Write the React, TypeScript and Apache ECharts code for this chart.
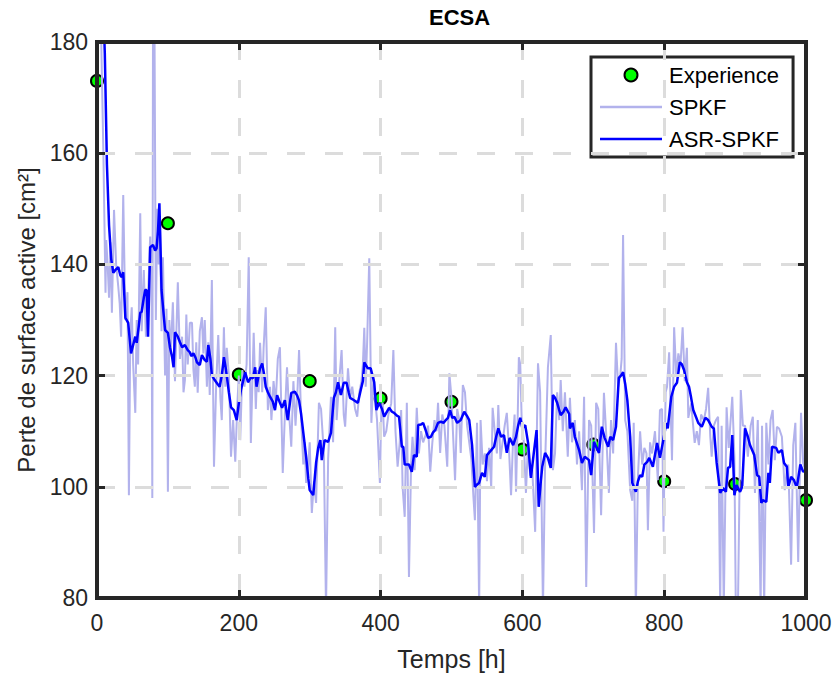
import React, { useEffect, useRef } from "react";
import * as echarts from "echarts";

const expHours = [0, 100, 200, 300, 400, 500, 600, 700, 800, 900, 1000];
const expValues = [173, 147.4, 120.2, 119, 115.9, 115.3, 106.7, 107.6, 101, 100.5, 97.6];

const spkfHours = [
  0, 3, 6, 9, 12, 13, 15, 17, 19, 21, 24, 27, 30, 32, 34, 37, 40, 43, 45, 47, 49, 51, 54, 56, 58, 61, 63, 66, 69, 72,
  75, 77, 78, 79, 81, 83, 85, 87, 89, 91, 93, 96, 98, 100, 102, 104, 107, 110, 112, 114, 117, 120, 122, 124, 126, 128,
  131, 134, 136, 138, 140, 142, 145, 148, 150, 152, 155, 157, 159, 162, 165, 168, 171, 174, 176, 179, 181, 183, 186,
  189, 192, 195, 198, 200, 202, 205, 208, 211, 214, 217, 219, 221, 224, 226, 228, 230, 233, 235, 238, 241, 244, 246,
  249, 252, 255, 258, 262, 265, 268, 271, 274, 277, 280, 283, 285, 288, 291, 293, 295, 298, 300, 303, 306, 309, 313,
  316, 320, 323, 326, 330, 333, 336, 338, 341, 345, 348, 350, 354, 357, 360, 364, 367, 370, 373, 375, 377, 379, 381,
  384, 387, 390, 392, 395, 399, 401, 403, 405, 408, 411, 415, 418, 421, 424, 427, 429, 431, 434, 437, 440, 443, 445,
  448, 451, 454, 457, 460, 464, 467, 470, 473, 476, 479, 481, 484, 487, 490, 494, 497, 500, 502, 505, 508, 511, 513,
  516, 519, 522, 525, 528, 531, 533, 536, 539, 541, 544, 547, 550, 553, 556, 558, 561, 564, 566, 569, 572, 575, 578,
  581, 584, 587, 589, 591, 593, 595, 597, 599, 602, 605, 608, 611, 614, 618, 622, 625, 629, 632, 636, 640, 643, 646,
  649, 652, 654, 657, 660, 664, 667, 670, 674, 677, 680, 684, 687, 690, 694, 697, 701, 704, 707, 711, 715, 718, 722,
  725, 728, 732, 735, 738, 740, 742, 745, 748, 752, 755, 757, 760, 763, 766, 769, 772, 775, 777, 780, 783, 787, 791,
  794, 797, 799, 802, 804, 807, 811, 814, 817, 820, 823, 826, 829, 832, 834, 838, 843, 846, 849, 852, 856, 859, 862,
  865, 867, 870, 873, 876, 879, 881, 884, 888, 891, 896, 899, 901, 904, 908, 911, 914, 918, 922, 925, 928, 932, 936,
  938, 941, 944, 947, 950, 953, 956, 959, 962, 966, 970, 973, 975, 979, 982, 985, 989, 993, 996, 1000,
];
const spkfValues = [
  240, 205, 180, 160, 134.9, 144.4, 140, 134, 144, 131.3, 149.8, 140, 136, 133, 127, 152.5, 130, 135, 98.5, 128, 132.3,
  122, 113.3, 130, 122, 149.2, 128, 139, 127, 134, 145, 138, 98, 185, 185, 130, 150, 140, 146, 128, 141.3, 120, 132,
  99.1, 130, 124, 133.2, 119, 128, 136.8, 123, 127, 117, 119.2, 131, 122, 129.5, 129.5, 121, 118, 126, 116.9, 128,
  130.5, 124, 130, 118, 126, 116.5, 137.2, 103.6, 118, 127.3, 116, 112, 128.7, 118, 125, 120, 105.4, 112, 104.5, 115,
  120, 108.4, 121, 118, 122, 141.3, 107.9, 118, 127.7, 114, 121, 117, 125.9, 117, 125, 132.3, 113.8, 118, 112, 119,
  115, 123, 125.1, 102.5, 113, 121.5, 113, 107.2, 119, 111, 118, 124.6, 112, 104, 108, 100.7, 104, 108, 95.3, 101,
  97.1, 115.1, 114, 106, 78, 105, 116.2, 108, 128.7, 112, 118, 124.6, 113, 110.8, 121.3, 116, 118, 114, 112.6, 117,
  119, 122, 128.6, 118, 126, 141.1, 111.5, 120, 116, 112, 100.7, 114, 115.1, 109, 110, 113, 115, 124.6, 110, 103.6,
  108, 113.8, 100, 94.6, 115.1, 83.8, 104, 109, 103, 114.2, 106, 110, 108, 109.5, 111, 102.7, 108, 112, 110, 115.1,
  106.1, 113, 111, 103.6, 120.4, 116, 110, 101.2, 114, 112, 106.1, 118.3, 117, 111, 108, 105, 98, 94, 111.5, 78, 112,
  104, 106, 101, 107, 99.8, 114.2, 110, 106, 114.7, 105, 108, 111, 113.3, 107, 98.5, 109, 113, 99.1, 110, 123.3, 122,
  112, 108, 98.9, 108, 102, 103, 91.9, 122.2, 117, 78, 104, 121.5, 127.3, 103, 106, 117, 112, 119.2, 110, 117, 105.4,
  116, 108, 112, 104, 110, 99.4, 116.2, 82, 112, 111, 91.7, 115.1, 114, 94.9, 116.9, 110, 98.9, 112, 106, 125.9, 118,
  120, 123, 145.3, 112, 110, 99.4, 97.5, 111.5, 78, 102, 110, 104, 107, 106, 92.2, 108, 106, 110, 101.2, 113.8, 114,
  91.9, 117, 118, 124.2, 104.8, 128.7, 120, 124, 122, 128.7, 119, 125, 112.4, 115, 107.9, 110, 107.5, 113, 112, 114,
  117.8, 109, 105.4, 111, 112, 112.6, 78, 111, 78, 114.3, 107, 116.2, 105.4, 78, 78, 117.4, 111, 111, 105.4, 111,
  112.6, 98.9, 112, 78, 111, 78, 111.5, 104, 112, 113.8, 104.8, 110.8, 110.5, 109, 99.4, 103, 104, 86, 107.5, 111.5,
  86.5, 113.3, 104.3, 102.5,
];

const asrHours = [
  0, 4, 8, 11, 14, 17, 20, 23, 26, 30, 33, 35, 37, 40, 44, 48, 51, 54, 56, 59, 61, 63, 66, 68, 70, 72, 75, 79, 82, 84,
  86, 88, 90, 91, 94, 96, 100, 103, 106, 108, 110, 114, 117, 120, 124, 128, 131, 133, 136, 139, 141, 145, 148, 152,
  155, 157, 160, 162, 166, 170, 173, 176, 179, 182, 186, 189, 193, 197, 200, 203, 206, 209, 213, 217, 220, 223, 225,
  228, 230, 233, 236, 238, 241, 244, 248, 251, 254, 258, 261, 265, 269, 271, 274, 279, 282, 285, 288, 291, 295, 298,
  300, 305, 309, 312, 315, 317, 321, 326, 330, 334, 337, 340, 344, 348, 352, 355, 357, 362, 368, 372, 375, 377, 382,
  386, 391, 394, 398, 402, 405, 408, 412, 416, 419, 423, 426, 430, 432, 434, 440, 444, 447, 451, 453, 457, 460, 464,
  467, 471, 474, 477, 481, 485, 489, 492, 495, 498, 501, 504, 508, 513, 518, 522, 525, 529, 533, 536, 539, 543, 547,
  550, 556, 560, 563, 566, 570, 574, 578, 582, 587, 591, 594, 597, 600, 604, 608, 612, 616, 620, 623, 626, 628, 632,
  636, 640, 643, 646, 649, 654, 658, 661, 666, 667, 671, 674, 680, 684, 688, 694, 697, 701, 704, 708, 712, 716, 721,
  724, 728, 732, 736, 739, 742, 745, 748, 752, 755, 760, 763, 766, 769, 772, 776, 779, 784, 790, 794, 798, 803, 805,
  810, 814, 818, 822, 825, 828, 832, 835, 838, 841, 845, 848, 853, 858, 862, 867, 870, 874, 879, 883, 887, 890, 893,
  896, 899, 902, 907, 910, 914, 918, 921, 924, 927, 931, 934, 937, 939, 944, 947, 949, 952, 958, 961, 966, 969, 973,
  975, 979, 983, 987, 992, 996, 1000,
];
const asrValues = [
  230, 210, 190, 178, 158, 147, 141, 138.5, 139, 139.5, 138, 137.7, 138.6, 130.4, 129.5, 124, 125.5, 127, 125.9, 129,
  131.3, 131.5, 134, 135.4, 135.4, 127, 143.1, 143.5, 142.5, 142.9, 146, 151, 141, 135.4, 131, 128.2, 127.7, 125,
  123.3, 121.5, 127.8, 127, 126, 125.1, 125.5, 124.6, 124.2, 123.5, 124, 123.2, 122.4, 121.9, 123.7, 122.8, 122.5,
  125.5, 123, 120.1, 119.2, 118.5, 118, 120, 123.3, 121, 117, 114.3, 113.8, 112, 115, 117.4, 119, 120.6, 118.8, 119.7,
  119.5, 121.5, 118, 120, 121.3, 122.2, 120, 118, 117, 116.2, 115.3, 113.8, 116.5, 115.1, 114.2, 115.6, 112, 114,
  116.9, 117.1, 116.5, 115.5, 113, 109.7, 105.4, 101.5, 99.4, 98.5, 104.3, 107, 108.4, 104.8, 108.4, 108.1, 109.7, 116,
  117, 118.8, 116.5, 118.7, 118.7, 117, 116, 115.6, 115.1, 117.4, 119, 122.4, 121.3, 121.3, 118.8, 113.8, 115.1, 114,
  112.6, 113.3, 114.2, 113.5, 113.3, 112.8, 112.6, 107.2, 107.2, 104, 104, 102.7, 105.7, 105.4, 111.1, 111.2, 111.5,
  110, 108.8, 109, 109.8, 110.2, 111.5, 111.7, 111.5, 112, 112.4, 113.8, 112.4, 112.6, 111.5, 112, 113.5, 112.7, 112,
  107.5, 100, 100.4, 100.7, 102.5, 101.8, 105.7, 106.6, 107.2, 109, 110.5, 109, 109.3, 106.1, 108.8, 107.5, 109, 111,
  112.4, 110.5, 111.1, 107.9, 101.6, 106, 110.2, 96.4, 101, 103.6, 106.1, 105.2, 103.4, 116.5, 116, 115.1, 112.9,
  113.5, 114.3, 113.1, 110.5, 111.5, 109, 106.6, 104.3, 105.4, 104.8, 102.1, 108.1, 107.2, 106.1, 110.8, 108.8, 107.2,
  109, 108.4, 110.8, 119.6, 120, 120.6, 118.5, 115.6, 109, 100.7, 99.1, 101, 102.1, 101.8, 104, 104.5, 105.2, 103.6,
  107.9, 105.2, 107.9, 111.5, 110.5, 116.2, 118, 118.7, 122.4, 122, 121, 118.8, 118, 116, 113.8, 112.5, 111.5, 110.8,
  112.4, 112, 110.8, 110.5, 104.3, 98.9, 99.8, 99.1, 103.4, 103.6, 109.3, 98.5, 100.3, 99.1, 100, 110.5, 109, 107.5,
  106.6, 105.7, 102.1, 101.8, 97.1, 97.6, 97.3, 102.5, 100.7, 107.2, 107, 106.1, 106.6, 104.3, 103.6, 100, 101.8,
  101.2, 99.8, 104, 102.7, 103,
];

const xTicks = { min: 0, max: 1000, interval: 200 };
const yTicks = { min: 80, max: 180, interval: 20 };

const FONT = "'Liberation Sans', Arial, Helvetica, sans-serif";
const AXIS_COLOR = "#262626";
const LINE_ICON = "path://M0,0H62V2.4H0Z";

function zip(xs: number[], ys: number[]) {
  return xs.map((x, i) => [x, ys[i]]);
}

export default function App() {
  const ref = useRef<HTMLDivElement>(null);

  useEffect(() => {
    if (!ref.current) return;
    const chart = echarts.init(ref.current, null, { renderer: "svg" });

    const tick = { show: true, inside: true, length: 8, lineStyle: { color: AXIS_COLOR, width: 3 } };
    const axisLine = { show: true, onZero: false, lineStyle: { color: AXIS_COLOR, width: 4 } };
    const split = {
      show: true,
      showMinLine: false,
      showMaxLine: false,
      lineStyle: { color: "#dcdcdc", width: 3, type: [18, 20] as any },
    };
    const fmt = (v: number) => String(v);

    chart.setOption({
      animation: false,
      backgroundColor: "#ffffff",
      title: {
        text: "ECSA",
        left: 429,
        top: 6,
        padding: 0,
        textStyle: { fontFamily: FONT, fontSize: 22, fontWeight: "bold", color: "#000" },
      },
      legend: {
        orient: "vertical",
        left: 591,
        top: 57,
        padding: [7, 14, 7, 9],
        itemWidth: 62,
        itemHeight: 13,
        itemGap: 10,
        selectedMode: false,
        backgroundColor: "#ffffff",
        borderColor: AXIS_COLOR,
        borderWidth: 3,
        textStyle: { fontFamily: FONT, fontSize: 22, lineHeight: 22, color: "#000", padding: [0, 0, 0, 2] },
        data: [
          { name: "Experience", icon: "circle" },
          { name: "SPKF", icon: LINE_ICON },
          { name: "ASR-SPKF", icon: LINE_ICON },
        ],
      },
      grid: {
        left: 97,
        top: 42,
        width: 709,
        height: 556,
        show: true,
        borderColor: AXIS_COLOR,
        borderWidth: 4,
        backgroundColor: "#ffffff",
        containLabel: false,
        outerBoundsMode: "none",
      },
      xAxis: [
        {
          type: "value",
          ...xTicks,
          position: "bottom",
          name: "Temps [h]",
          nameLocation: "middle",
          nameGap: 48,
          nameTextStyle: { fontFamily: FONT, fontSize: 25, color: "#262626" },
          axisLine,
          axisTick: tick,
          axisLabel: { fontFamily: FONT, fontSize: 23, color: "#262626", margin: 13, formatter: fmt },
          splitLine: split,
          z: 10,
        },
        {
          type: "value",
          ...xTicks,
          position: "top",
          axisLine,
          axisTick: tick,
          axisLabel: { show: false },
          splitLine: { show: false },
          z: 10,
        },
      ],
      yAxis: [
        {
          type: "value",
          ...yTicks,
          position: "left",
          name: "Perte de surface active [cm²]",
          nameLocation: "middle",
          nameGap: 57,
          nameTextStyle: { fontFamily: FONT, fontSize: 24, color: "#262626" },
          axisLine,
          axisTick: tick,
          axisLabel: { fontFamily: FONT, fontSize: 23, color: "#262626", margin: 9, formatter: fmt },
          splitLine: split,
          z: 10,
        },
        {
          type: "value",
          ...yTicks,
          position: "right",
          axisLine,
          axisTick: tick,
          axisLabel: { show: false },
          splitLine: { show: false },
          z: 10,
        },
      ],
      series: [
        {
          name: "Experience",
          type: "scatter",
          data: zip(expHours, expValues),
          symbol: "circle",
          symbolSize: 12,
          itemStyle: { color: "#00ff00", borderColor: "#000000", borderWidth: 2, opacity: 1 },
          z: 3,
        },
        {
          name: "SPKF",
          type: "line",
          data: zip(spkfHours, spkfValues),
          symbol: "none",
          showSymbol: false,
          clip: true,
          lineStyle: { color: "#b2b2ec", width: 2 },
          itemStyle: { color: "#b2b2ec" },
          z: 4,
        },
        {
          name: "ASR-SPKF",
          type: "line",
          data: zip(asrHours, asrValues),
          symbol: "none",
          showSymbol: false,
          clip: true,
          lineStyle: { color: "#0000ff", width: 2.5 },
          itemStyle: { color: "#0000ff" },
          z: 5,
        },
      ],
    });

    return () => chart.dispose();
  }, []);

  return (
    <div
      ref={ref}
      style={{ position: "fixed", left: 0, top: 0, width: 834, height: 677, background: "#fff" }}
    />
  );
}
